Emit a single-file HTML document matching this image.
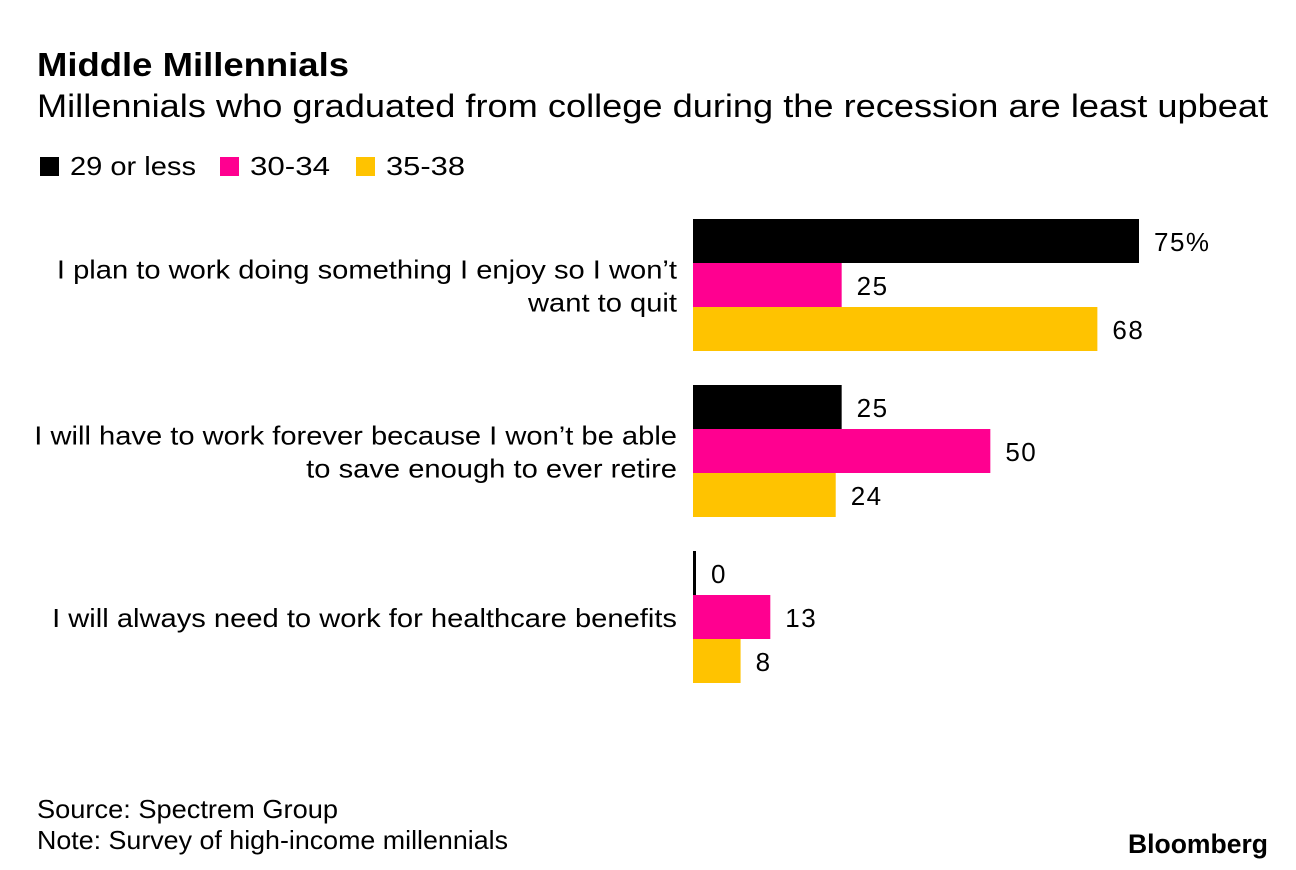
<!DOCTYPE html>
<html><head><meta charset="utf-8">
<style>
html,body{margin:0;padding:0;background:#fff;}
svg{display:block;font-family:"Liberation Sans",Arial,sans-serif;}
</style></head>
<body>
<svg id="chart" width="1296" height="870" viewBox="0 0 1296 870" xmlns="http://www.w3.org/2000/svg">
<rect width="1296" height="870" fill="#fff"/>
<text x="37" y="76" font-size="33" font-weight="bold" fill="#000" textLength="312" lengthAdjust="spacingAndGlyphs">Middle Millennials</text>
<text x="37" y="117" font-size="32" fill="#000" textLength="1231" lengthAdjust="spacingAndGlyphs">Millennials who graduated from college during the recession are least upbeat</text>
<g id="legend"></g>
<g id="labels"></g>
<g id="bars"></g>
<text x="37" y="818" font-size="26" fill="#000" textLength="301" lengthAdjust="spacingAndGlyphs">Source: Spectrem Group</text>
<text x="37" y="849" font-size="26" fill="#000" textLength="471" lengthAdjust="spacingAndGlyphs">Note: Survey of high-income millennials</text>
<text x="1128" y="853" font-size="27" font-weight="bold" fill="#000" textLength="140" lengthAdjust="spacingAndGlyphs">Bloomberg</text>
</svg>
<script>
const categories = [
  ["I plan to work doing something I enjoy so I won\u2019t", "want to quit"],
  ["I will have to work forever because I won\u2019t be able", "to save enough to ever retire"],
  ["I will always need to work for healthcare benefits"]
];
const seriesNames = ["29 or less", "30-34", "35-38"];
const series29 = [75, 25, 0];
const series30 = [25, 50, 13];
const series35 = [68, 24, 8];
const seriesColors = ["#000000", "#ff0090", "#ffc300"];

const NS = "http://www.w3.org/2000/svg";
const x0 = 693, pxPer = 446 / 75;
const groupTop = 219, groupStep = 166, barH = 44;
const xScale = v => x0 + v * pxPer;
const yBar = (g, s) => groupTop + g * groupStep + s * barH;
function mk(tag, attrs, parent) {
  const e = document.createElementNS(NS, tag);
  for (const k in attrs) e.setAttribute(k, attrs[k]);
  parent.appendChild(e);
  return e;
}
function fit(t, target) {
  try {
    const w = t.getComputedTextLength();
    if (w > 0) {
      t.setAttribute('textLength', target);
      t.setAttribute('lengthAdjust', 'spacingAndGlyphs');
    }
  } catch (e) {}
}
const leg = document.getElementById('legend');
const legX = [40, 220, 356];
const legW = [126, 80, 79];
seriesNames.forEach((n, i) => {
  const r = mk('rect', {x: legX[i], y: 157, width: 19, height: 19, fill: seriesColors[i]}, leg);
  
  
  const t = mk('text', {x: legX[i] + 30, y: 175, 'font-size': 26, fill: '#000'}, leg);
  t.textContent = n;
  
  
  fit(t, legW[i]);
});
const lab = document.getElementById('labels');
const widthFactor = 1.165;
categories.forEach((lines, g) => {
  const cy = groupTop + g * groupStep + 1.5 * barH;
  const start = cy - (lines.length - 1) * 16.5 + 10;
  lines.forEach((ln, j) => {
    const t = mk('text', {x: 677, y: start + j * 33, 'font-size': 26, fill: '#000', 'text-anchor': 'end'}, lab);
    t.textContent = ln;
    
    
    const w = t.getComputedTextLength();
    fit(t, (w * widthFactor * 25 / 26).toFixed(1));
  });
});
const bars = document.getElementById('bars');
const allSeries = [series29, series30, series35];
allSeries.forEach((vals, s) => {
  vals.forEach((v, g) => {
    const w = Math.max(xScale(v) - x0, v === 0 ? 3 : 0);
    const y = yBar(g, s);
    const r = mk('rect', {x: x0, y: y, width: w, height: barH, fill: seriesColors[s]}, bars);
    
    
    const t = mk('text', {x: x0 + w + 15, y: y + barH / 2 + 10, 'font-size': 26, 'letter-spacing': 1.5, fill: '#000'}, bars);
    t.textContent = (g === 0 && s === 0) ? v + '%' : String(v);
    
    
  });
});
</script>
</body></html>
